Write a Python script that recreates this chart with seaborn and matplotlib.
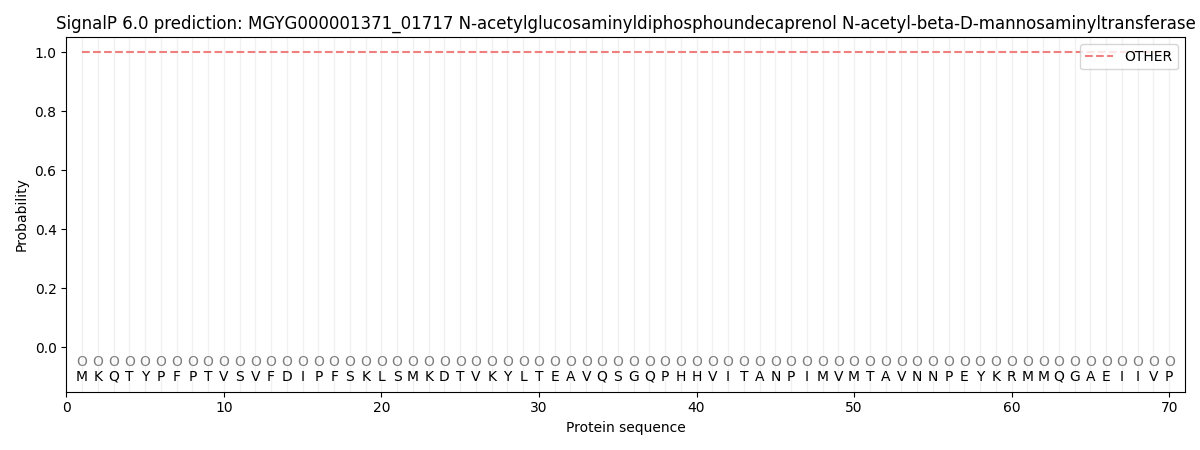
import matplotlib
matplotlib.use("Agg")
import matplotlib.pyplot as plt
import seaborn as sns
import pandas as pd

# sequence and per-residue predictions
sequence = list("MKQTYPFPTVSVFDIPFSKLSMKDTVKYLTEAVQSGQPHHVITANPIMVMTAVNNPEYKRMMQGAEIIVP")
positions = list(range(1, len(sequence) + 1))
other_prob = [1.0] * len(sequence)
region_labels = ["O"] * len(sequence)

title = ("SignalP 6.0 prediction: MGYG000001371_01717 "
         "N-acetylglucosaminyldiphosphoundecaprenol N-acetyl-beta-D-mannosaminyltransferase")

df = pd.DataFrame({"pos": positions, "OTHER": other_prob})

fig, ax = plt.subplots(figsize=(12, 4.5), dpi=100)

# light vertical guide lines at each residue
for p in positions:
    ax.axvline(p, color="#e8e8e8", linewidth=1, alpha=0.6, zorder=0)

sns.lineplot(data=df, x="pos", y="OTHER", ax=ax, color="#f08080",
             linestyle="--", linewidth=1.5, label="OTHER")

for p, aa, lab in zip(positions, sequence, region_labels):
    ax.text(p, -0.05, lab, ha="center", va="center", fontsize=10, color="gray")
    ax.text(p, -0.1, aa, ha="center", va="center", fontsize=10, color="black")

ax.set_xlim(0, 71)
ax.set_ylim(-0.15, 1.05)
ax.set_yticks([0.0, 0.2, 0.4, 0.6, 0.8, 1.0])
ax.set_xlabel("Protein sequence")
ax.set_ylabel("Probability")
ax.set_title(title)
ax.legend(loc="upper right")

plt.tight_layout()
plt.savefig("out.png")
